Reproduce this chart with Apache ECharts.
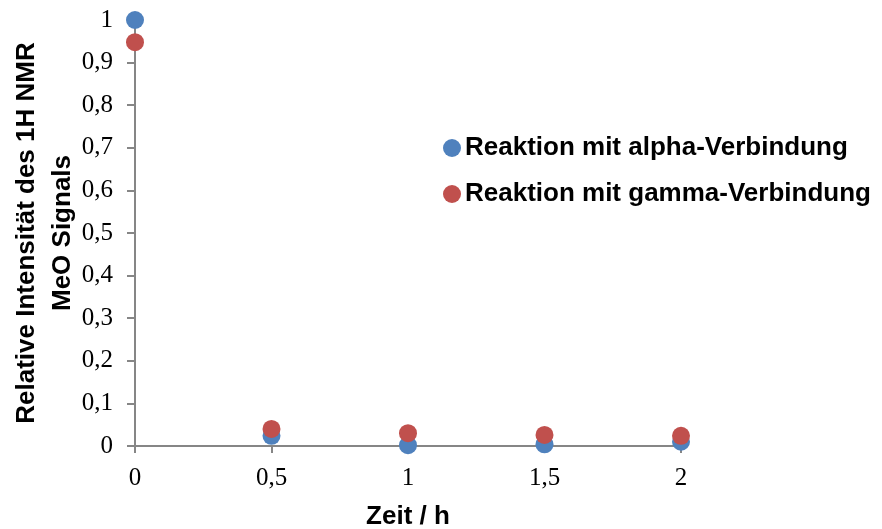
<!DOCTYPE html>
<html>
<head>
<meta charset="utf-8">
<script src="https://cdn.jsdelivr.net/npm/echarts@6/dist/echarts.min.js"></script>
<style>html,body{margin:0;padding:0;background:#fff}#c{width:882px;height:529px}</style>
</head>
<body>
<div id="c"></div>
<script>
const timeH = [0, 0.5, 1, 1.5, 2];
const alphaValues = [1.0, 0.024, 0.002, 0.004, 0.01];
const gammaValues = [0.948, 0.04, 0.03, 0.026, 0.024];
const seriesNames = ['Reaktion mit alpha-Verbindung', 'Reaktion mit gamma-Verbindung'];
const xAxisTitle = 'Zeit / h';
const yAxisTitle = 'Relative Intensität des 1H NMR\nMeO Signals';

const fmt = v => String(+v.toFixed(2)).replace('.', ',');
const axisGray = '#868686';

const chart = echarts.init(document.getElementById('c'), null, {renderer: 'canvas'});
chart.setOption({
  animation: false,
  backgroundColor: '#fff',
  grid: {left: 135, right: 201, top: 20, bottom: 83, containLabel: false, outerBoundsMode: 'none'},
  xAxis: {
    type: 'value', min: 0, max: 2, interval: 0.5,
    name: xAxisTitle, nameLocation: 'middle', nameGap: 58,
    nameTextStyle: {fontFamily: 'Liberation Sans', fontWeight: 'bold', fontSize: 26, color: '#000'},
    axisLine: {show: true, onZero: false, lineStyle: {color: axisGray, width: 2}},
    axisTick: {show: true, length: 7, lineStyle: {color: axisGray, width: 2}},
    axisLabel: {formatter: fmt, fontFamily: 'Liberation Serif', fontSize: 25, color: '#000', margin: 20},
    splitLine: {show: false}
  },
  yAxis: {
    type: 'value', min: 0, max: 1, interval: 0.1,
    name: yAxisTitle, nameLocation: 'middle', nameGap: 54, nameRotate: 90, nameMoveOverlap: false,
    nameTextStyle: {fontFamily: 'Liberation Sans', fontWeight: 'bold', fontSize: 26, color: '#000', lineHeight: 36, align: 'center'},
    axisLine: {show: true, onZero: false, lineStyle: {color: axisGray, width: 2}},
    axisTick: {show: true, length: 8, lineStyle: {color: axisGray, width: 2}},
    axisLabel: {formatter: fmt, fontFamily: 'Liberation Serif', fontSize: 25, color: '#000', margin: 22},
    splitLine: {show: false}
  },
  legend: {
    orient: 'vertical', left: 438, top: 130, itemGap: 20,
    icon: 'circle', itemWidth: 18, itemHeight: 18,
    textStyle: {fontFamily: 'Liberation Sans', fontWeight: 'bold', fontSize: 26, color: '#000', padding: [0,0,0,-1]},
    data: seriesNames
  },
  series: [
    {name: seriesNames[0], type: 'scatter', symbolSize: 18, itemStyle: {color: '#4F81BD', opacity: 1},
     data: timeH.map((t, i) => [t, alphaValues[i]])},
    {name: seriesNames[1], type: 'scatter', symbolSize: 18, itemStyle: {color: '#C0504D', opacity: 1},
     data: timeH.map((t, i) => [t, gammaValues[i]])}
  ]
});
</script>
</body>
</html>
